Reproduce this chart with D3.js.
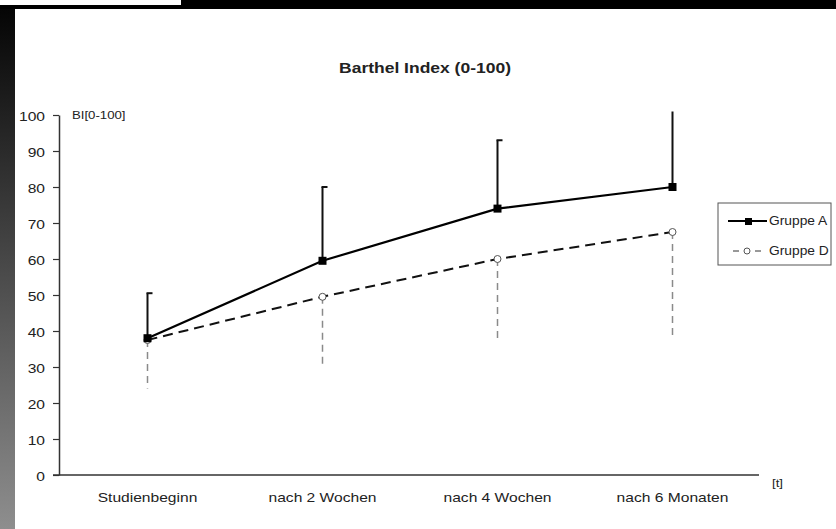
<!DOCTYPE html>
<html>
<head>
<meta charset="utf-8">
<script src="https://cdn.jsdelivr.net/npm/d3@7/dist/d3.min.js"></script>
<style>
  html, body { margin: 0; padding: 0; background: #fff; }
  svg { display: block; }
  text { font-family: "Liberation Sans", Arial, sans-serif; fill: #222; }
</style>
</head>
<body>
<svg id="chart" width="836" height="529"></svg>
<script>
// ---- data ----
const categories = ["Studienbeginn", "nach 2 Wochen", "nach 4 Wochen", "nach 6 Monaten"];
const gruppeA = [38, 59.5, 74, 80];
const gruppeAUpper = [50.5, 80, 93, 105];
const gruppeD = [37.5, 49.5, 60, 67.5];
const gruppeDLower = [24, 30, 38, 38];
const yTicks = [0, 10, 20, 30, 40, 50, 60, 70, 80, 90, 100];
const seriesNames = ["Gruppe A", "Gruppe D"];
const titleText = "Barthel Index (0-100)";
const yUnit = "BI[0-100]";
const xUnit = "[t]";

const W = 836, H = 529;
const svg = d3.select("#chart");
const STRETCH = 1.2;

// ---- frame decoration ----
const defs = svg.append("defs");
const grad = defs.append("linearGradient").attr("id", "strip")
  .attr("x1", 0).attr("y1", 0).attr("x2", 0).attr("y2", 1);
grad.append("stop").attr("offset", "0%").attr("stop-color", "#050505");
grad.append("stop").attr("offset", "100%").attr("stop-color", "#8e8e8e");
svg.append("rect").attr("x", 0).attr("y", 0).attr("width", W).attr("height", 9).attr("fill", "#000");
svg.append("rect").attr("x", 0).attr("y", 0).attr("width", 181).attr("height", 5).attr("fill", "#fff");
svg.append("rect").attr("x", 0).attr("y", 9).attr("width", 15).attr("height", H - 9).attr("fill", "url(#strip)");

// ---- scales ----
const x = d3.scaleBand().domain(categories).range([60, 760]).padding(0);
const cx = c => x(c) + x.bandwidth() / 2;
const y = d3.scaleLinear().domain([0, 100]).range([475, 115]);

function stretchText(sel, sx) {
  return sel.attr("transform", function () {
    const t = d3.select(this);
    return `translate(${t.attr("data-x")},${t.attr("data-y")}) scale(${sx},1)`;
  });
}

// ---- title ----
svg.append("text").attr("data-x", 425).attr("data-y", 73)
  .attr("text-anchor", "middle").attr("font-size", 14).attr("font-weight", "bold")
  .text(titleText).call(stretchText, 1.25);

// ---- axes ----
const yAxis = svg.append("g").attr("transform", "translate(59,0)")
  .call(d3.axisLeft(y).tickValues(yTicks).tickSize(6).tickSizeOuter(0));
yAxis.select(".domain").attr("stroke", "#333").attr("stroke-width", 1.5);
yAxis.selectAll(".tick line").attr("stroke", "#333").attr("stroke-width", 1.2);
yAxis.selectAll(".tick text")
  .attr("x", null).attr("dy", null)
  .attr("font-family", null).attr("font-size", 13).attr("fill", "#222")
  .attr("transform", `translate(-14,5) scale(${STRETCH},1)`);

const xAxis = svg.append("g").attr("transform", "translate(0,475)")
  .call(d3.axisBottom(x).tickSize(0).tickSizeOuter(0));
xAxis.select(".domain").attr("stroke", "#333").attr("stroke-width", 1.5)
  .attr("d", `M53,0H759`);
xAxis.selectAll(".tick text")
  .attr("y", null).attr("dy", null)
  .attr("font-family", null).attr("font-size", 13).attr("fill", "#222")
  .attr("transform", `translate(0,27) scale(${STRETCH},1)`);

svg.append("text").attr("data-x", 772).attr("data-y", 487).attr("font-size", 11)
  .text(xUnit).call(stretchText, STRETCH);
svg.append("text").attr("data-x", 72).attr("data-y", 119).attr("font-size", 11)
  .text(yUnit).call(stretchText, STRETCH);

// ---- clip for plot region ----
defs.append("clipPath").attr("id", "plotclip").append("rect")
  .attr("x", 60).attr("y", y(101)).attr("width", 700).attr("height", y(0) - y(101) + 20);

const plot = svg.append("g").attr("clip-path", "url(#plotclip)");

const dataA = categories.map((c, i) => ({ c, v: gruppeA[i], e: gruppeAUpper[i] }));
const dataD = categories.map((c, i) => ({ c, v: gruppeD[i], e: gruppeDLower[i] }));

// error bars D (dashed, downward)
plot.selectAll(".errD").data(dataD).join("line")
  .attr("x1", d => cx(d.c)).attr("x2", d => cx(d.c))
  .attr("y1", d => y(d.v)).attr("y2", d => y(d.e))
  .attr("stroke", "#8a8a8a").attr("stroke-width", 1.5).attr("stroke-dasharray", "7,5");

// error bars A (solid, upward)
plot.selectAll(".errA").data(dataA).join("line")
  .attr("x1", d => cx(d.c)).attr("x2", d => cx(d.c))
  .attr("y1", d => y(d.v)).attr("y2", d => y(d.e))
  .attr("stroke", "#111").attr("stroke-width", 2);
plot.selectAll(".capA").data(dataA).join("line")
  .attr("x1", d => cx(d.c) - 1).attr("x2", d => cx(d.c) + 5)
  .attr("y1", d => y(d.e)).attr("y2", d => y(d.e))
  .attr("stroke", "#111").attr("stroke-width", 2);

const line = d3.line().x(d => cx(d.c)).y(d => y(d.v));

plot.append("path").datum(dataD).attr("d", line)
  .attr("fill", "none").attr("stroke", "#111").attr("stroke-width", 2)
  .attr("stroke-dasharray", "10,6");
plot.append("path").datum(dataA).attr("d", line)
  .attr("fill", "none").attr("stroke", "#000").attr("stroke-width", 2.2);

plot.selectAll(".mD").data(dataD).join("circle")
  .attr("cx", d => cx(d.c)).attr("cy", d => y(d.v)).attr("r", 3.5)
  .attr("fill", "#fff").attr("stroke", "#555").attr("stroke-width", 1);
plot.selectAll(".mA").data(dataA).join("rect")
  .attr("x", d => cx(d.c) - 4).attr("y", d => y(d.v) - 4)
  .attr("width", 8).attr("height", 8).attr("fill", "#000");

// ---- legend ----
const lg = svg.append("g");
lg.append("rect").attr("x", 718).attr("y", 203).attr("width", 113).attr("height", 62)
  .attr("fill", "#fff").attr("stroke", "#555").attr("stroke-width", 1);
lg.append("line").attr("x1", 728).attr("x2", 767).attr("y1", 221).attr("y2", 221)
  .attr("stroke", "#000").attr("stroke-width", 2);
lg.append("rect").attr("x", 745).attr("y", 218).attr("width", 7).attr("height", 7).attr("fill", "#000");
lg.append("line").attr("x1", 733).attr("x2", 761).attr("y1", 251).attr("y2", 251)
  .attr("stroke", "#333").attr("stroke-width", 1).attr("stroke-dasharray", "6,5");
lg.append("circle").attr("cx", 747).attr("cy", 251).attr("r", 3)
  .attr("fill", "#fff").attr("stroke", "#555").attr("stroke-width", 1);
lg.selectAll(".lt").data(seriesNames).join("text")
  .attr("data-x", 769).attr("data-y", (d, i) => i === 0 ? 225 : 255)
  .attr("font-size", 12).text(d => d).call(stretchText, 1.15);
</script>
</body>
</html>
